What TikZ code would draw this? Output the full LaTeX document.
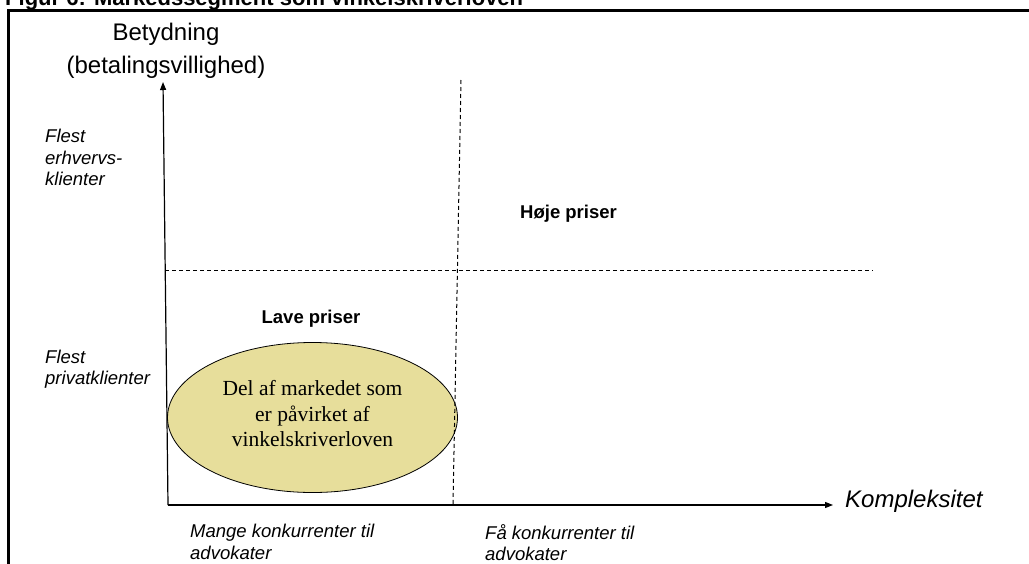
\documentclass[tikz,border=0pt]{standalone}
\usepackage{fontspec}
\setmainfont{Liberation Sans}
\newfontfamily\serifface{Liberation Serif}
\usetikzlibrary{arrows.meta,shapes.geometric}
\definecolor{ellfill}{RGB}{231,222,155}
\tikzset{
  frameline/.style={line width=2.5pt},
  axisline/.style={line width=1.2pt,-{Triangle[length=8pt,width=6pt]}},
  divline/.style={line width=1pt,dash pattern=on 4pt off 3pt},
  sidelabel/.style={align=left,inner sep=0pt,anchor=north west,font=\itshape\fontsize{18.5}{21.5}\selectfont},
  pricelabel/.style={inner sep=0pt,font=\bfseries\fontsize{18.5}{22}\selectfont},
}
\begin{document}
\begin{tikzpicture}[x=1pt,y=-1pt]
\clip (0,0) rectangle (1029,563);
\fill[white] (0,0) rectangle (1029,563);
% title (cut off at top)
\node[anchor=base west,inner sep=0pt,font=\bfseries\fontsize{22}{26}\selectfont] (title) at (5,5.5) {Figur 6: Markedssegment som vinkelskriverloven};
% frame
\draw[frameline] (8.5,570) -- (8.5,10.5) -- (1040,10.5);
% coordinates
\coordinate (O) at (168,505);
\coordinate (ytop) at (163,82);
\coordinate (xend) at (833,505);
\coordinate (vtop) at (461,80);
\coordinate (vbot) at (453,505);
\coordinate (hl) at (165,270);
\coordinate (hr) at (873,270);
% ellipse
\node[ellipse,draw,line width=0.8pt,fill=ellfill,minimum width=290pt,minimum height=150pt,inner sep=0pt] (ell) at (312.5,417.5) {};
\node[align=center,inner sep=0pt,font=\serifface\fontsize{21.5}{25.5}\selectfont] (elltext) at (312.5,414) {Del af markedet som\\er påvirket af\\vinkelskriverloven};
% dashed dividers
\draw[divline] (vtop) -- (vbot);
\draw[divline] (hl) -- (hr);
% axes
\draw[axisline] (O) -- (ytop);
\draw[axisline] (O) -- (xend);
% axis labels
\node[align=center,inner sep=0pt,font=\fontsize{24}{33}\selectfont] (ylab) at (166,51) {Betydning\\(betalingsvillighed)};
\node[anchor=base west,inner sep=0pt,font=\itshape\fontsize{24}{28}\selectfont] (xlab) at (845,507) {Kompleksitet};
% side labels
\node[sidelabel] (erhverv) at (45,129) {Flest\\erhvervs-\\klienter};
\node[sidelabel] (privat) at (45,349.5) {Flest\\privatklienter};
\node[sidelabel] (mange) at (190,524) {Mange konkurrenter til\\advokater};
\node[sidelabel] (faa) at (485,524) {Få konkurrenter til\\advokater};
% price labels
\node[pricelabel,anchor=base] (lave) at (311,323) {Lave priser};
\node[pricelabel,anchor=base west] (hoeje) at (520,218) {Høje priser};
\end{tikzpicture}
\end{document}
